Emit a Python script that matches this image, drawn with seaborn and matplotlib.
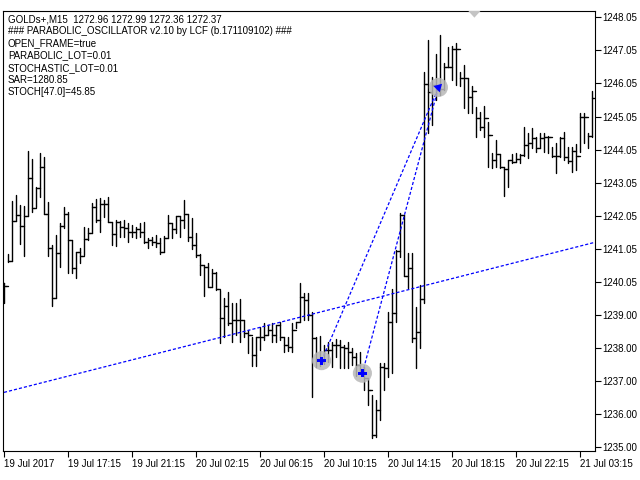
import numpy as np
import pandas as pd
import matplotlib
matplotlib.use("Agg")
import matplotlib.pyplot as plt
import seaborn as sns

# ---------------- data ----------------
high = [1239.96,1240.84,1242.45,1242.63,1242.32,1242.30,1243.96,1243.72,1242.88,1243.89,
        1243.77,1242.42,1241.12,1241.42,1241.77,1242.27,1242.12,1241.27,1240.91,1241.02,
        1241.65,1241.62,1242.38,1242.50,1242.53,1242.48,1242.56,1241.81,1241.87,1241.85,
        1241.87,1241.77,1241.72,1241.67,1241.77,1241.80,1241.32,1241.37,1241.42,1241.32,
        1241.39,1242.02,1241.77,1242.00,1242.00,1242.48,1242.04,1241.92,1241.47,1240.83,
        1240.51,1240.58,1240.38,1240.30,1239.76,1239.50,1239.70,1239.35,1239.35,1239.47,
        1238.85,1238.55,1238.34,1238.34,1238.63,1238.75,1238.70,1238.75,1238.70,1238.80,
        1238.34,1238.34,1238.75,1238.80,1239.96,1239.66,1239.67,1239.10,1238.33,1238.36,
        1238.09,1238.19,1238.18,1238.26,1238.24,1238.09,1238.19,1237.99,1237.85,1237.87,
        1237.43,1237.10,1236.58,1236.43,1237.54,1237.54,1239.10,1239.78,1240.96,1242.07,
        1242.02,1240.86,1240.86,1239.25,1239.91,1246.35,1247.31,1246.20,1246.89,1247.46,
        1246.62,1247.10,1247.13,1247.22,1246.35,1246.56,1246.16,1245.92,1245.29,1245.14,
        1245.32,1244.83,1243.90,1244.29,1243.87,1243.47,1243.69,1243.87,1243.90,1243.87,
        1244.68,1244.50,1244.65,1244.38,1244.50,1244.50,1244.41,1244.08,1244.20,1244.38,
        1244.53,1244.08,1244.08,1244.17,1245.11,1245.11,1244.50,1245.77]
low = [1239.35,1240.61,1240.63,1241.84,1241.14,1240.79,1241.99,1242.12,1242.27,1242.58,
       1242.05,1240.79,1239.27,1239.50,1240.46,1241.62,1240.28,1240.28,1240.11,1240.58,
       1240.81,1241.27,1241.47,1241.82,1241.52,1241.97,1241.80,1241.12,1241.09,1241.37,
       1241.37,1241.22,1241.37,1241.34,1241.37,1241.17,1241.03,1241.12,1241.06,1240.83,
       1240.89,1241.32,1241.32,1241.47,1241.37,1241.62,1241.24,1240.99,1240.76,1240.21,
       1239.58,1239.84,1239.84,1239.76,1238.14,1238.34,1238.70,1238.19,1238.39,1238.19,
       1238.34,1237.84,1237.46,1237.46,1237.94,1238.24,1238.39,1238.19,1238.19,1238.24,
       1237.89,1237.92,1237.89,1238.60,1238.80,1238.85,1238.85,1236.53,1237.43,1237.46,
       1237.52,1237.58,1237.43,1237.74,1237.40,1237.39,1237.39,1237.49,1237.16,1237.22,
       1236.73,1236.28,1235.28,1235.30,1235.83,1236.73,1237.13,1237.26,1238.80,1240.76,
       1240.18,1239.81,1238.19,1237.41,1237.99,1239.37,1244.49,1244.74,1245.50,1245.65,
       1245.80,1246.50,1246.10,1245.95,1245.92,1245.26,1245.11,1245.11,1244.38,1244.59,
       1244.38,1243.47,1243.44,1243.47,1243.44,1242.60,1242.87,1243.59,1243.62,1243.59,
       1243.81,1243.75,1244.05,1243.93,1244.05,1243.93,1243.90,1243.78,1243.29,1243.78,
       1243.69,1243.59,1243.32,1243.38,1243.93,1244.20,1244.05,1244.38]
close = [1239.88,1240.63,1241.84,1242.02,1241.69,1241.99,1243.13,1242.24,1242.85,1243.46,
         1242.05,1241.03,1239.50,1240.86,1241.69,1242.05,1241.27,1240.41,1240.89,1240.79,
         1241.30,1241.47,1242.27,1241.87,1242.35,1242.35,1241.80,1241.45,1241.80,1241.65,
         1241.62,1241.50,1241.52,1241.59,1241.52,1241.20,1241.27,1241.22,1241.17,1240.91,
         1241.32,1241.79,1241.59,1241.99,1241.87,1242.04,1241.37,1241.12,1240.81,1240.51,
         1240.44,1239.84,1240.26,1239.79,1238.90,1239.27,1238.76,1238.85,1238.85,1238.85,
         1238.46,1238.39,1237.79,1238.34,1238.34,1238.39,1238.55,1238.39,1238.70,1238.34,
         1238.09,1238.04,1238.55,1238.80,1239.55,1239.45,1239.00,1238.30,1237.67,1237.58,
         1237.94,1237.94,1238.09,1238.09,1238.03,1237.99,1237.89,1237.74,1237.49,1237.28,
         1237.10,1236.73,1235.37,1236.13,1237.44,1237.41,1238.80,1239.05,1240.94,1242.02,
         1240.18,1240.43,1238.30,1238.48,1239.48,1245.97,1245.75,1245.95,1245.85,1245.82,
         1246.51,1246.51,1247.03,1247.03,1246.15,1246.15,1245.60,1245.78,1244.95,1244.69,
         1244.95,1244.44,1243.69,1243.86,1243.48,1243.40,1243.69,1243.63,1243.71,1243.84,
         1244.14,1244.21,1244.36,1244.04,1244.36,1244.39,1244.39,1243.81,1243.81,1244.36,
         1243.78,1243.65,1243.96,1243.81,1244.99,1244.99,1244.41,1245.55]
first_open = 1239.96

y_tick_values = [1235, 1236, 1237, 1238, 1239, 1240, 1241, 1242, 1243, 1244, 1245, 1246, 1247, 1248]
y_tick_labels = ["1235.00", "1236.00", "1237.00", "1238.00", "1239.00", "1240.05", "1241.05",
                 "1242.05", "1243.05", "1244.05", "1245.05", "1246.05", "1247.05", "1248.05"]
x_tick_bars = [0, 16, 32, 48, 64, 80, 96, 112, 128, 144]
x_tick_labels = ["19 Jul 2017", "19 Jul 17:15", "19 Jul 21:15", "20 Jul 02:15", "20 Jul 06:15",
                 "20 Jul 10:15", "20 Jul 14:15", "20 Jul 18:15", "20 Jul 22:15", "21 Jul 03:15"]

header_lines = ["GOLDs+,M15  1272.96 1272.99 1272.36 1272.37",
                "### PARABOLIC_OSCILLATOR v2.10 by LCF (b.171109102) ###",
                "OPEN_FRAME=true",
                "PARABOLIC_LOT=0.01",
                "STOCHASTIC_LOT=0.01",
                "SAR=1280.85",
                "STOCH[47.0]=45.85"]

signal_bar = [79.4, 89.6, 108.6]
signal_price = [1237.62, 1237.24, 1245.88]
trend_bar = [0, 147.5]
trend_price = [1236.66, 1241.19]
flag_bar = [117.6]
flag_price = [1248.13]

# ---------------- build long-form tables ----------------
n = len(close)
opens = [first_open] + close[:-1]
rows = []
for i in range(n):
    rows.append(("hl%d" % i, i, low[i]))
    rows.append(("hl%d" % i, i, high[i]))
    rows.append(("o%d" % i, i - 0.5, opens[i]))
    rows.append(("o%d" % i, i, opens[i]))
    rows.append(("c%d" % i, i, close[i]))
    rows.append(("c%d" % i, i + 0.5, close[i]))
bars = pd.DataFrame(rows, columns=["unit", "bar", "price"])

sig = pd.DataFrame({
    "unit": ["a", "a", "b", "b"],
    "bar": [signal_bar[0], signal_bar[2], signal_bar[1], signal_bar[2]],
    "price": [signal_price[0], signal_price[2], signal_price[1], signal_price[2]],
})
trend = pd.DataFrame({"bar": trend_bar, "price": trend_price})

# ---------------- draw ----------------
sns.set_style("white")
plt.rcParams['font.family'] = ['Liberation Sans', 'DejaVu Sans']

fig = plt.figure(figsize=(6.4, 4.8), dpi=100)
ax = fig.add_axes([3 / 640, 29 / 480, 592 / 640, 440 / 480])

sns.lineplot(data=bars, x="bar", y="price", units="unit", estimator=None, sort=False,
             color="black", lw=1.0, ax=ax, legend=False)
sns.lineplot(data=trend, x="bar", y="price", color="#0000ff", lw=0.9,
             linestyle=(0, (2.5, 1.6)), ax=ax, legend=False)
sns.lineplot(data=sig, x="bar", y="price", units="unit", estimator=None, sort=False,
             color="#0000ff", lw=0.9, linestyle=(0, (2.5, 1.6)), ax=ax, legend=False)

sns.scatterplot(x=signal_bar, y=signal_price, s=190, color="#b8b8b8", alpha=0.85,
                edgecolor="none", ax=ax, zorder=4, legend=False)
ax.scatter(signal_bar[:2], signal_price[:2], marker="P", s=35, color="#0000ff",
           edgecolors="none", zorder=5)
ax.scatter(signal_bar[2:], signal_price[2:], marker=(3, 0, -45), s=55, color="#0000ff",
           edgecolors="none", zorder=5)
flag_marker = [(-1.0, 0.55), (1.0, 0.55), (0.0, -0.55), (-1.0, 0.55)]
ax.scatter(flag_bar, flag_price, marker=flag_marker, s=150, color="#c4c4c4",
           edgecolors="none", zorder=5)

ax.set_xlim(-0.25, 147.75)
ax.set_ylim(1234.888, 1248.19)
ax.set_xlabel("")
ax.set_ylabel("")

ax.yaxis.tick_right()
ax.set_yticks(y_tick_values)
ax.set_yticklabels(y_tick_labels)
ax.set_xticks(x_tick_bars)
ax.set_xticklabels(x_tick_labels, ha="left")
ax.tick_params(axis="y", direction="out", length=4, width=0.8, pad=1.5, labelsize=7,
               colors="black", right=True, left=False)
ax.tick_params(axis="x", direction="out", length=4, width=0.8, pad=2, labelsize=7,
               colors="black", bottom=True)
for s in ax.spines.values():
    s.set_visible(True)
    s.set_color("black")
    s.set_linewidth(0.8)
ax.grid(False)

for k, line in enumerate(header_lines):
    fig.text(8 / 640, 1 - (19 + 12.2 * k) / 480, line, ha="left", va="center",
             fontsize=7, color="black")

fig.savefig("out.png", dpi=100, facecolor="white")
